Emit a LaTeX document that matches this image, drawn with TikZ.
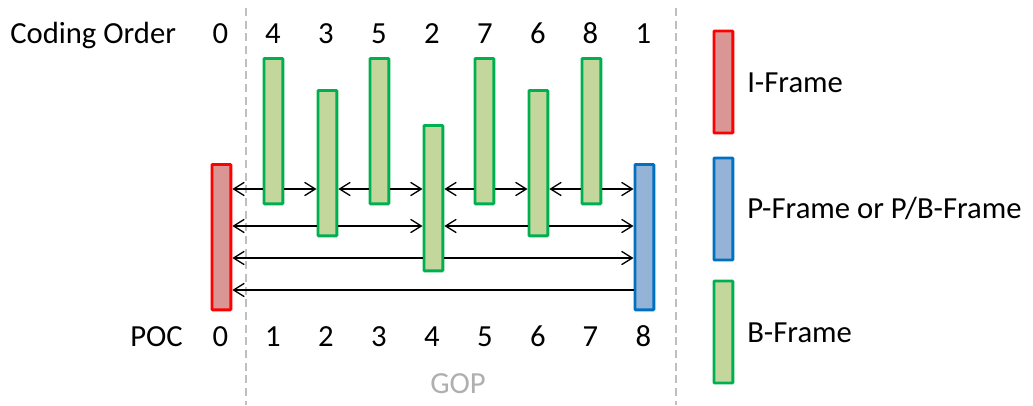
\documentclass[tikz,border=0pt]{standalone}
\usepackage{fontspec}
\setmainfont{Carlito}
\usetikzlibrary{arrows.meta}
\definecolor{ifill}{RGB}{217,150,148}
\definecolor{iline}{RGB}{255,0,0}
\definecolor{pfill}{RGB}{149,179,215}
\definecolor{pline}{RGB}{0,112,192}
\definecolor{bfill}{RGB}{195,214,155}
\definecolor{bline}{RGB}{0,176,80}
\definecolor{sepgray}{RGB}{191,191,191}
\definecolor{gopgray}{RGB}{175,175,175}
\tikzset{
  frame/.style={draw, line width=2.2pt, rounded corners=0.6pt, minimum width=14.2pt, minimum height=109pt, inner sep=0pt, anchor=north west},
  iframe/.style={frame, fill=ifill, draw=iline},
  pframe/.style={frame, fill=pfill, draw=pline},
  bframe/.style={frame, fill=bfill, draw=bline},
  lgd/.style={frame, minimum height=76.5pt},
  txt/.style={inner sep=0pt, anchor=base, font=\fontsize{23}{28}\selectfont},
  ref/.style={line width=1pt, -{Straight Barb[length=8pt,width=10pt,line width=1pt]}},
  sep/.style={draw=sepgray, line width=1.5pt, dash pattern=on 6pt off 3.5pt}
}
\begin{document}
\begin{tikzpicture}[x=0.75pt,y=-0.75pt]
\useasboundingbox (0,0) rectangle (1033,405);
% separators
\coordinate (s1a) at (246,8); \coordinate (s1b) at (246,405);
\coordinate (s2a) at (676,8); \coordinate (s2b) at (676,405);
\draw[sep] (s1a) -- (s1b);
\draw[sep] (s2a) -- (s2b);
% frames
\node[iframe] (f0) at (210.5,163) {};
\node[bframe] (f1) at (262.5,57) {};
\node[bframe] (f2) at (316.5,89) {};
\node[bframe] (f3) at (368.5,57) {};
\node[bframe] (f4) at (422.5,124) {};
\node[bframe] (f5) at (473.5,57) {};
\node[bframe] (f6) at (527.5,89) {};
\node[bframe] (f7) at (580.5,57) {};
\node[pframe] (f8) at (633.5,163) {};
% rows
\coordinate (r1) at (0,189);
\coordinate (r2) at (0,226);
\coordinate (r3) at (0,258);
\coordinate (r4) at (0,290);
% references
\draw[ref] (f1.west|-r1) -- (f0.east|-r1);
\draw[ref] (f1.east|-r1) -- (f2.west|-r1);
\draw[ref] (f3.west|-r1) -- (f2.east|-r1);
\draw[ref] (f3.east|-r1) -- (f4.west|-r1);
\draw[ref] (f5.west|-r1) -- (f4.east|-r1);
\draw[ref] (f5.east|-r1) -- (f6.west|-r1);
\draw[ref] (f7.west|-r1) -- (f6.east|-r1);
\draw[ref] (f7.east|-r1) -- (f8.west|-r1);
\draw[ref] (f2.west|-r2) -- (f0.east|-r2);
\draw[ref] (f2.east|-r2) -- (f4.west|-r2);
\draw[ref] (f6.west|-r2) -- (f4.east|-r2);
\draw[ref] (f6.east|-r2) -- (f8.west|-r2);
\draw[ref] (f4.west|-r3) -- (f0.east|-r3);
\draw[ref] (f4.east|-r3) -- (f8.west|-r3);
\draw[ref] (f8.west|-r4) -- (f0.east|-r4);
% coding order row
\node[txt, anchor=base west] (co) at (10,43) {Coding Order};
\node[txt] (c0) at (220.5,43) {0};
\node[txt] (c1) at (273,43) {4};
\node[txt] (c2) at (326,43) {3};
\node[txt] (c3) at (379,43) {5};
\node[txt] (c4) at (432,43) {2};
\node[txt] (c5) at (485,43) {7};
\node[txt] (c6) at (538,43) {6};
\node[txt] (c7) at (590.5,43) {8};
\node[txt] (c8) at (643.5,43) {1};
% POC row
\node[txt, anchor=base west] (poc) at (130,346) {POC};
\node[txt] (p0) at (220.5,346) {0};
\node[txt] (p1) at (273,346) {1};
\node[txt] (p2) at (326,346) {2};
\node[txt] (p3) at (379,346) {3};
\node[txt] (p4) at (432,346) {4};
\node[txt] (p5) at (485,346) {5};
\node[txt] (p6) at (538,346) {6};
\node[txt] (p7) at (590.5,346) {7};
\node[txt] (p8) at (643.5,346) {8};
\node[txt, text=gopgray] (gop) at (458,393) {GOP};
% legend
\node[lgd, fill=ifill, draw=iline] (li) at (712.5,29.5) {};
\node[lgd, fill=pfill, draw=pline] (lp) at (712.5,156.5) {};
\node[lgd, fill=bfill, draw=bline] (lb) at (712.5,279.5) {};
\node[txt, anchor=base west] (ti) at (747,92) {I-Frame};
\node[txt, anchor=base west] (tp) at (747,218) {P-Frame or P/B-Frame};
\node[txt, anchor=base west] (tb) at (747,342) {B-Frame};
\end{tikzpicture}
\end{document}
